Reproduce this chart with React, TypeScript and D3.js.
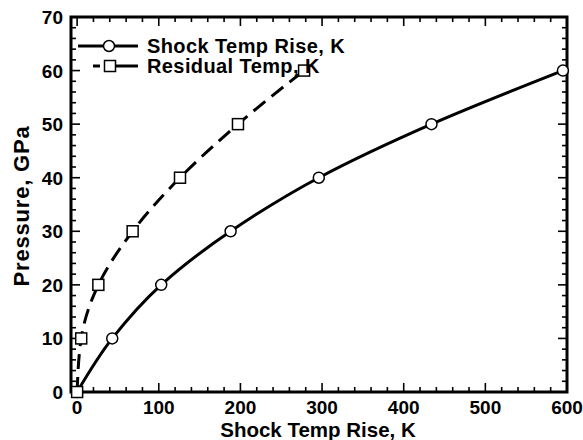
import React from "react";
import * as d3 from "d3";

const shockTemp = [0, 43, 103, 188, 296, 434, 595];
const shockPressure = [0, 10, 20, 30, 40, 50, 60];
const residualTemp = [0, 5, 26, 68, 126, 197, 278];
const residualPressure = [0, 10, 20, 30, 40, 50, 60];
const xTicks = [0, 100, 200, 300, 400, 500, 600];
const yTicks = [0, 10, 20, 30, 40, 50, 60, 70];
const seriesNames = ["Shock Temp Rise, K", "Residual Temp, K"];

export default function App() {
  const W = 583, H = 440;
  const L = 71, R = 567, T = 17, B = 392;
  const x = d3.scaleLinear().domain([-7.5, 600]).range([L, R]);
  const y = d3.scaleLinear().domain([0, 70]).range([B, T]);
  const font = "'Liberation Sans', Arial, sans-serif";

  const line = d3.line<[number, number]>().x(d => x(d[0])).y(d => y(d[1])).curve(d3.curveMonotoneY);
  const shockPts: [number, number][] = shockTemp.map((t, i) => [t, shockPressure[i]]);
  const resPts: [number, number][] = residualTemp.map((t, i) => [t, residualPressure[i]]);

  const xMinor = d3.range(0, 601, 20);
  const yMinor = d3.range(0, 71, 2);

  return (
    <svg width={W} height={H} style={{ position: "absolute", left: 0, top: 0, background: "#fff" }}>
      <rect x={0} y={0} width={W} height={H} fill="#fff" />
      {xMinor.map(v => {
        const major = v % 100 === 0;
        const len = major ? 9 : 5;
        return (
          <g key={"xt" + v}>
            <line x1={x(v)} x2={x(v)} y1={B} y2={B - len} stroke="#000" strokeWidth={1.6} />
            <line x1={x(v)} x2={x(v)} y1={T} y2={T + len} stroke="#000" strokeWidth={1.6} />
          </g>
        );
      })}
      {yMinor.map(v => {
        const major = v % 10 === 0;
        const len = major ? 9 : 5;
        return (
          <g key={"yt" + v}>
            <line x1={L} x2={L + len} y1={y(v)} y2={y(v)} stroke="#000" strokeWidth={1.6} />
            <line x1={R} x2={R - len} y1={y(v)} y2={y(v)} stroke="#000" strokeWidth={1.6} />
          </g>
        );
      })}
      <rect x={L} y={T} width={R - L} height={B - T} fill="none" stroke="#000" strokeWidth={3} />
      {xTicks.map(v => (
        <text key={"xl" + v} x={x(v)} y={414} textAnchor="middle" fontFamily={font} fontWeight="bold" fontSize={19}>{v}</text>
      ))}
      {yTicks.map(v => (
        <text key={"yl" + v} x={63} y={y(v) + 7} textAnchor="end" fontFamily={font} fontWeight="bold" fontSize={19}>{v}</text>
      ))}
      <text x={318} y={437} textAnchor="middle" fontFamily={font} fontWeight="bold" fontSize={20.5}>Shock Temp Rise, K</text>
      <text transform={`translate(29,206) rotate(-90)`} textAnchor="middle" fontFamily={font} fontWeight="bold" fontSize={22} letterSpacing={0.8}>Pressure, GPa</text>

      <path d={line(shockPts) || ""} fill="none" stroke="#000" strokeWidth={3} />
      <path d={line(resPts) || ""} fill="none" stroke="#000" strokeWidth={3} strokeDasharray="15,8" />
      {shockPts.map((p, i) => (
        <circle key={"c" + i} cx={x(p[0])} cy={y(p[1])} r={5.5} fill="#fff" stroke="#000" strokeWidth={1.5} />
      ))}
      {resPts.map((p, i) => (
        <rect key={"s" + i} x={x(p[0]) - 5.5} y={y(p[1]) - 5.5} width={11} height={11} fill="#fff" stroke="#000" strokeWidth={1.5} />
      ))}

      <line x1={78} x2={138} y1={46} y2={46} stroke="#000" strokeWidth={3} />
      <circle cx={109} cy={46} r={5.5} fill="#fff" stroke="#000" strokeWidth={1.5} />
      <text x={147} y={53} fontFamily={font} fontWeight="bold" fontSize={20} letterSpacing={0.4}>{seriesNames[0]}</text>
      <line x1={93} x2={100} y1={66} y2={66} stroke="#000" strokeWidth={3} />
      <line x1={115} x2={138} y1={66} y2={66} stroke="#000" strokeWidth={3} />
      <rect x={104.5} y={60.5} width={11} height={11} fill="#fff" stroke="#000" strokeWidth={1.5} />
      <text x={147} y={73} fontFamily={font} fontWeight="bold" fontSize={20} letterSpacing={0.4}>{seriesNames[1]}</text>
    </svg>
  );
}
